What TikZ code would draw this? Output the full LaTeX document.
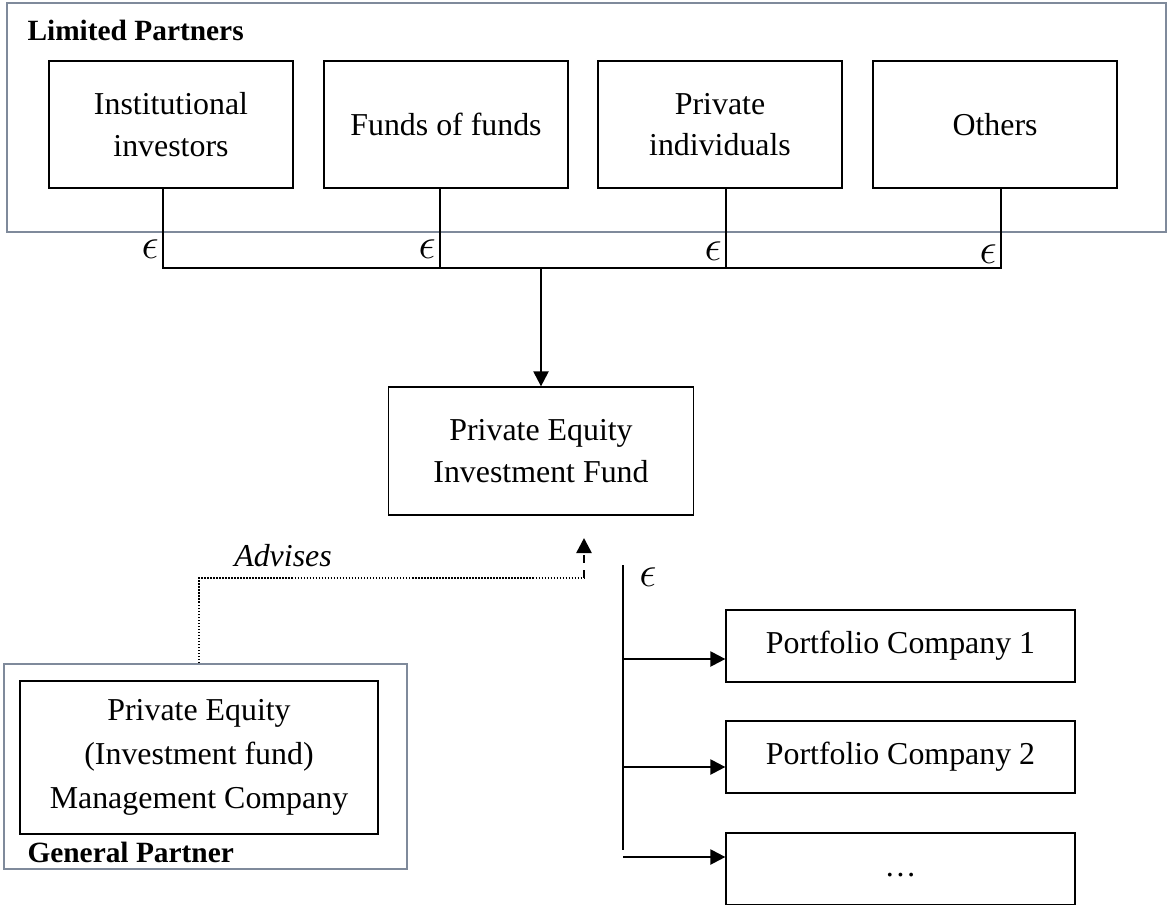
\documentclass[tikz,border=0pt]{standalone}
\usepackage{fontspec}
\setmainfont{Liberation Serif}
\usepackage{tikz}
\usetikzlibrary{arrows.meta, positioning, calc}
\definecolor{framegray}{RGB}{127, 138, 155}

\begin{document}
\begin{tikzpicture}[
    frame/.style={draw=framegray, line width=0.6pt, inner sep=0pt},
    box/.style={draw=black, line width=0.5pt, align=center, inner sep=0pt, font=\fontsize{12.7}{16.5}\selectfont},
    lpbox/.style={box, minimum width=3.416cm, minimum height=1.778cm},
    pcbox/.style={box, minimum width=4.886cm, minimum height=1.008cm},
    title/.style={anchor=west, inner sep=0pt, font=\fontsize{11.7}{14}\bfseries},
    euro/.style={anchor=east, inner sep=1.5pt, font=\fontsize{17}{18}\selectfont},
    line/.style={line width=0.5pt},
    arr/.style={-{Triangle[length=0.21cm, width=0.21cm]}, line width=0.9pt}
]
    \useasboundingbox (0,0) rectangle (16.338,-12.656);

    % Limited partners
    \node[frame, minimum width=16.226cm, minimum height=3.206cm] (lp) at (8.211,-1.645) {};
    \node[title] (lptitle) at (0.378,-0.42) {Limited Partners};
    \node[lpbox] (inst) at (2.394,-1.743) {Institutional\\investors};
    \node[lpbox] (fof) at (6.244,-1.743) {Funds of funds};
    \node[lpbox] (priv) at (10.08,-1.743) {Private\\individuals};
    \node[lpbox] (oth) at (13.93,-1.743) {Others};

    % Capital collection
    \coordinate (d1) at (2.282,-3.752);
    \coordinate (d2) at (6.16,-3.752);
    \coordinate (d3) at (10.164,-3.752);
    \coordinate (d4) at (14.014,-3.752);
    \draw[line] (d1 |- inst.south) -- (d1) -- (d4) -- (d4 |- oth.south);
    \draw[line] (d2 |- fof.south) -- (d2);
    \draw[line] (d3 |- priv.south) -- (d3);
    \node[euro] (e1) at ($(d1)+(0,0.27)$) {$\epsilon$};
    \node[euro] (e2) at ($(d2)+(0,0.27)$) {$\epsilon$};
    \node[euro] (e3) at ($(d3)+(0,0.24)$) {$\epsilon$};
    \node[euro] (e4) at ($(d4)+(0,0.2)$) {$\epsilon$};

    % Fund
    \node[box, minimum width=4.27cm, minimum height=1.792cm] (fund) at (7.574,-6.314) {Private Equity\\Investment Fund};
    \draw[arr] (fund.north |- d1) -- (fund.north);

    % General partner
    \node[frame, minimum width=5.642cm, minimum height=2.87cm] (gp) at (2.877,-10.731) {};
    \node[box, minimum width=5.012cm, minimum height=2.142cm, font=\fontsize{12.7}{17.5}\selectfont] (mgmt) at (2.786,-10.605) {Private Equity\\(Investment fund)\\Management Company};
    \node[title] (gptitle) at (0.378,-11.928) {General Partner};

    % Advice
    \coordinate (adv) at (8.176,-8.092);
    \coordinate (advtip) at (8.176,-7.532);
    \draw[dash pattern=on 0.6pt off 0.6pt, line width=0.5pt] (mgmt.north |- gp.north) |- (adv);
    \draw[arr, dashed, line width=1pt] (adv) -- (advtip);
    \node[font=\fontsize{12.7}{14}\itshape, anchor=south] (advlbl) at (3.962,-8.06) {Advises};

    % Portfolio companies
    \node[pcbox] (pc1) at (12.607,-9.044) {Portfolio Company 1};
    \node[pcbox] (pc2) at (12.607,-10.598) {Portfolio Company 2};
    \node[pcbox] (pc3) at (12.607,-12.166) {\raisebox{-6pt}{\dots}};

    \coordinate (t0) at (8.722,-7.91);
    \coordinate (t1) at (8.722,-11.9);
    \draw[line] (t0) -- (t1);
    \node[euro, anchor=center] (e5) at (9.072,-8.078) {$\epsilon$};
    \coordinate (a1) at (8.722,-9.226);
    \coordinate (a2) at (8.722,-10.738);
    \coordinate (a3) at (8.722,-11.998);
    \draw[arr] (a1) -- (a1 -| pc1.west);
    \draw[arr] (a2) -- (a2 -| pc2.west);
    \draw[arr] (a3) -- (a3 -| pc3.west);
\end{tikzpicture}
\end{document}
